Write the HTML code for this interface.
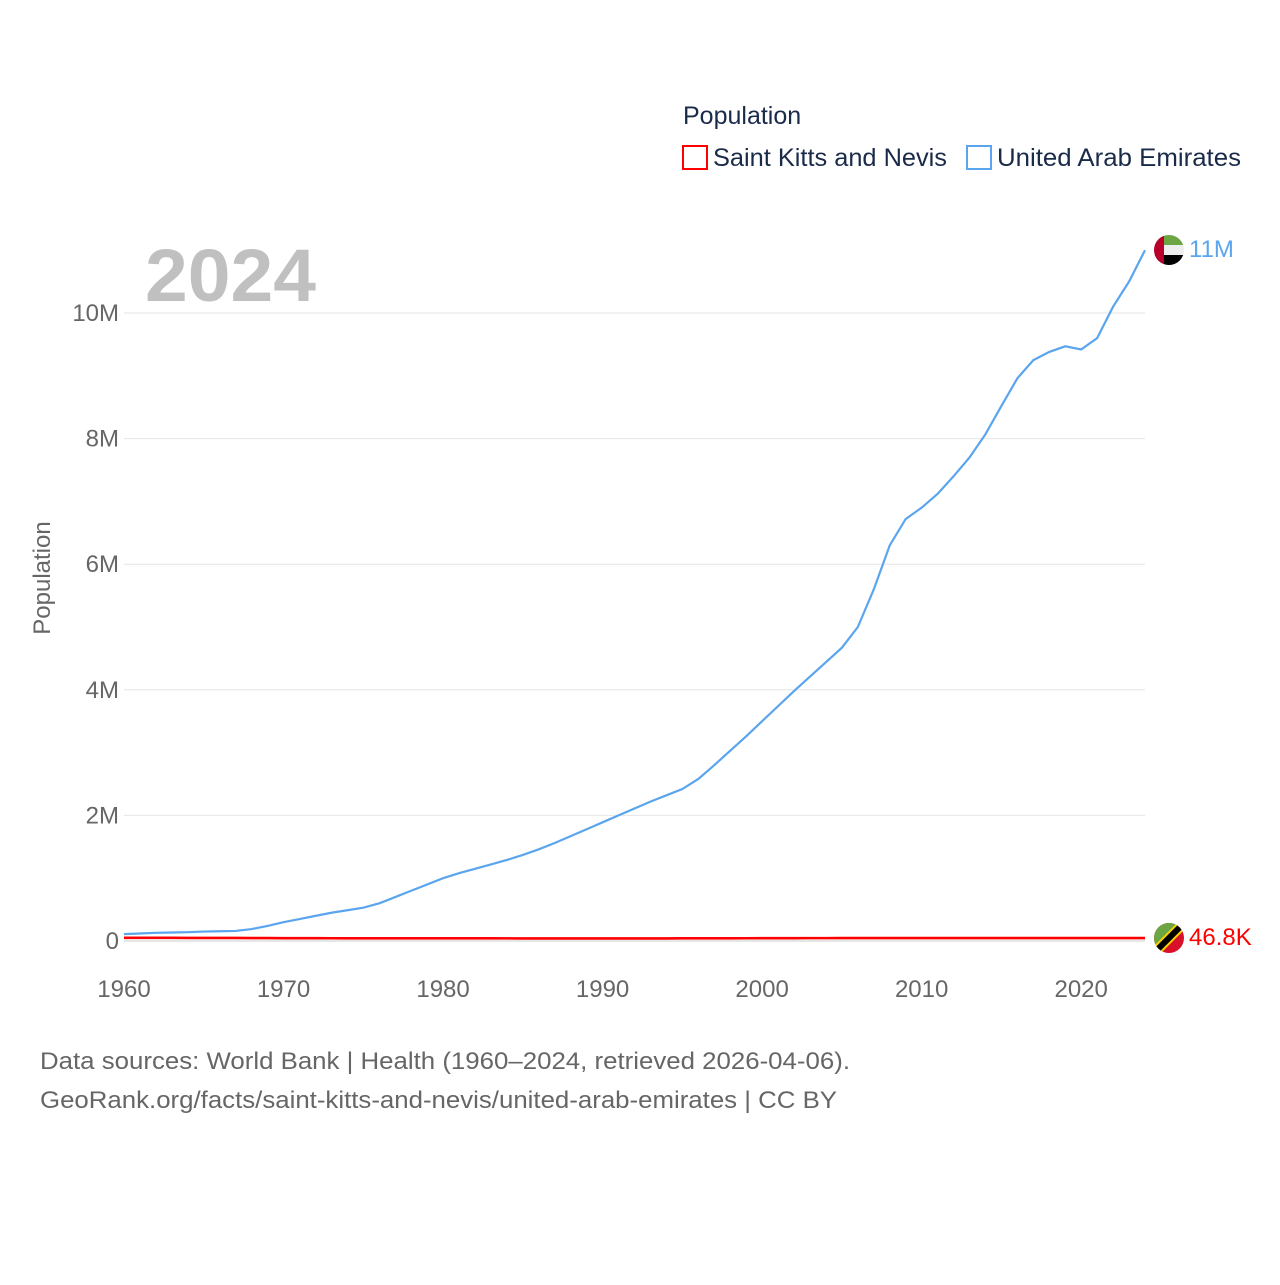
<!DOCTYPE html>
<html><head><meta charset="utf-8"><style>
body{margin:0;background:#fff;width:1280px;height:1280px;overflow:hidden;font-family:"Liberation Sans",sans-serif}
svg text{font-family:"Liberation Sans",sans-serif}
</style></head><body>
<svg id="c" width="1280" height="1280" xmlns="http://www.w3.org/2000/svg">
<defs>
<clipPath id="cu"><circle cx="1169" cy="250" r="15"/></clipPath>
<clipPath id="cs"><circle cx="1169" cy="938" r="15"/></clipPath>
</defs>
<text x="683" y="124" font-size="25" fill="#1a2b4a">Population</text>
<g>
<rect x="683" y="146" width="24" height="23" fill="none" stroke="#ff0000" stroke-width="2"/>
<text x="713" y="166" font-size="25" fill="#1a2b4a" textLength="234" lengthAdjust="spacingAndGlyphs">Saint Kitts and Nevis</text></g>
<g>
<rect x="967" y="146" width="24" height="23" fill="none" stroke="#5aa5ee" stroke-width="2"/>
<text x="997" y="166" font-size="25" fill="#1a2b4a" textLength="244" lengthAdjust="spacingAndGlyphs">United Arab Emirates</text></g>
<text x="145" y="301" font-size="74" font-weight="bold" fill="#c0c0c0" textLength="171" lengthAdjust="spacingAndGlyphs">2024</text>
<text transform="translate(50,578) rotate(-90)" text-anchor="middle" font-size="24" fill="#666">Population</text>
<g id="grid"></g><g id="marks"></g>
<g clip-path="url(#cu)">
<rect x="1154" y="235" width="30" height="10" fill="#6ca544"/><rect x="1154" y="245" width="30" height="10" fill="#eee"/><rect x="1154" y="255" width="30" height="10" fill="#000"/><rect x="1154" y="235" width="10" height="30" fill="#b8002a"/></g>
<text x="1189" y="257" font-size="24" fill="#5aa5ee">11M</text>
<g clip-path="url(#cs)">
<rect x="1154" y="923" width="30" height="30" fill="#d8102a"/><polygon points="1154,923 1184,923 1154,953" fill="#6ca544"/>
<line x1="1154" y1="953" x2="1184" y2="923" stroke="#f7d000" stroke-width="10"/><line x1="1154" y1="953" x2="1184" y2="923" stroke="#000" stroke-width="6"/></g>
<text x="1189" y="945" font-size="24" fill="#ff0000">46.8K</text>
<text x="40" y="1069" font-size="24" fill="#666" textLength="810" lengthAdjust="spacingAndGlyphs">Data sources: World Bank | Health (1960–2024, retrieved 2026-04-06).</text>
<text x="40" y="1108" font-size="24" fill="#666" textLength="797" lengthAdjust="spacingAndGlyphs">GeoRank.org/facts/saint-kitts-and-nevis/united-arab-emirates | CC BY</text>
</svg>
<script>
const years=[];for(let y=1960;y<=2024;y++)years.push(y);
const uae=[0.11,0.12,0.13,0.135,0.14,0.15,0.155,0.16,0.19,0.24,0.30,0.35,0.40,0.45,0.49,0.53,0.60,0.70,0.80,0.90,1.0,1.08,1.15,1.22,1.29,1.37,1.46,1.56,1.67,1.78,1.89,2.0,2.11,2.22,2.32,2.42,2.58,2.80,3.03,3.26,3.5,3.74,3.98,4.21,4.44,4.67,5.0,5.6,6.3,6.72,6.9,7.12,7.4,7.7,8.07,8.52,8.96,9.25,9.38,9.47,9.42,9.6,10.1,10.5,11.0];
const skn=[51,51,50.5,50,49.5,49,48.5,48,47.3,46.5,45.5,44.5,44,43.6,43.3,43,42.8,42.6,42.5,42.4,42.3,42.2,42.1,42,41.8,41.5,41,40.6,40.4,40.3,40.3,40.4,40.6,41,41.5,42,42.4,42.9,43.4,43.9,44.4,44.9,45.3,45.6,45.8,46,46.1,46.2,46.3,46.4,46.5,46.6,46.7,46.8,46.9,47,47.1,47.2,47.3,47.4,47.5,47.5,47.4,47.1,46.8];
const yTicks=[0,2,4,6,8,10],yLabels=["0","2M","4M","6M","8M","10M"];
const xTicks=[1960,1970,1980,1990,2000,2010,2020];
const X=y=>124+(y-1960)*(1145-124)/64, Y=m=>941-m*62.8;
const NS="http://www.w3.org/2000/svg",grid=document.getElementById('grid'),marks=document.getElementById('marks');
function mk(t,a,p){const e=document.createElementNS(NS,t);for(const k in a)e.setAttribute(k,a[k]);p.appendChild(e);return e;}
yTicks.forEach((v,i)=>{
 const l=mk('line',{x1:124,x2:1145,y1:Y(v),y2:Y(v),stroke:v?'#e6e6e6':'#ccc','stroke-width':1},grid);
 
 
 const t=mk('text',{x:119,y:Y(v)+8,'text-anchor':'end','font-size':24,fill:'#666'},grid);t.textContent=yLabels[i];
 
 
});
xTicks.forEach(v=>{
 const t=mk('text',{x:X(v),y:997,'text-anchor':'middle','font-size':24,fill:'#666'},grid);t.textContent=v;
 
 
});
const pu=mk('polyline',{points:years.map((y,i)=>X(y)+','+Y(uae[i])).join(' '),fill:'none',stroke:'#5aa5ee','stroke-width':2.2},marks);


const ps=mk('polyline',{points:years.map((y,i)=>X(y)+','+Y(skn[i]/1000)).join(' '),fill:'none',stroke:'#ff0000','stroke-width':2.6},marks);


</script>
</body></html>
